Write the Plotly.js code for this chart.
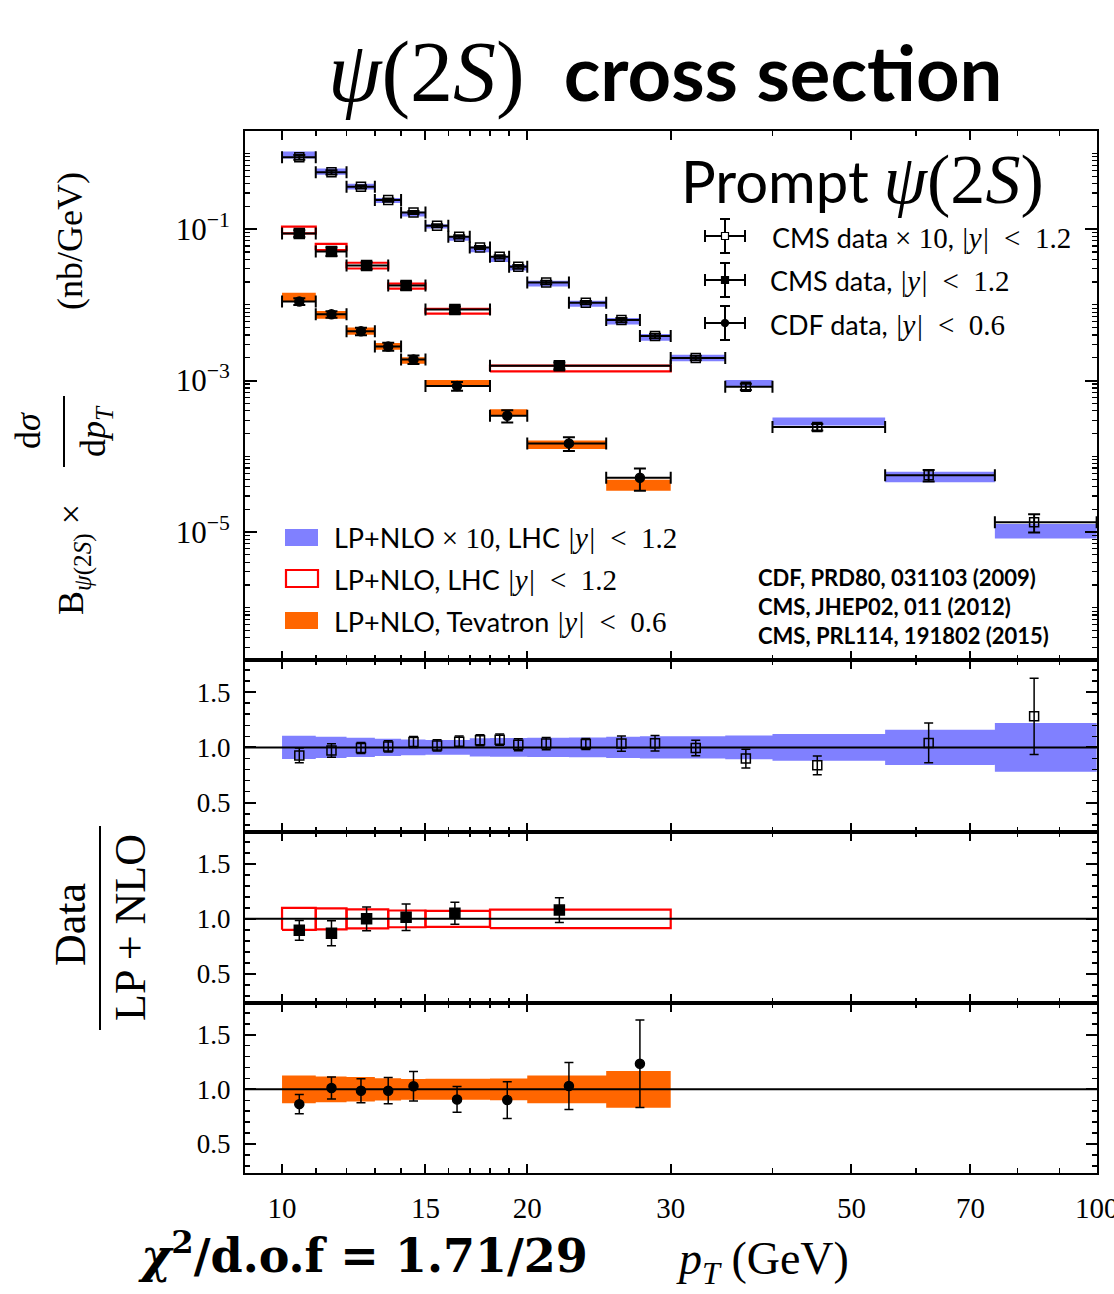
<!DOCTYPE html>
<html><head><meta charset="utf-8">
<script src="https://cdn.plot.ly/plotly-3.0.1.min.js"></script>
<style>body{margin:0;background:#fff}</style>
</head><body>
<div id="chart" style="width:1114px;height:1294px"></div>
<script>
// ---------------- data ----------------
// CMS data x10, |y|<1.2 (PRL114, 191802)
const cms10Lo = [10,11,12,13,14,15,16,17,18,19,20,22.5,25,27.5,30,35,40,55,75];
const cms10Hi = [11,12,13,14,15,16,17,18,19,20,22.5,25,27.5,30,35,40,55,75,100];
const cms10Pt = [10.5,11.5,12.5,13.5,14.5,15.5,16.5,17.5,18.5,19.5,21.1,23.6,26.1,28.7,32.2,37.1,45.4,62.2,83.8];
const cms10Data = [0.887,0.562,0.363,0.242,0.166,0.111,0.0792,0.0573,0.0431,0.0318,0.0197,0.0107,0.0063,0.00388,0.00199,8.3e-4,2.43e-4,5.6e-5,1.35e-5];
const cms10Theory = [0.957,0.578,0.365,0.240,0.158,0.109,0.0753,0.0539,0.0403,0.0311,0.0191,0.0104,0.0061,0.00374,0.00200,9.2e-4,2.9e-4,5.4e-5,1.05e-5];
const cms10TheoryErr = [0.105,0.096,0.086,0.078,0.072,0.067,0.067,0.082,0.084,0.084,0.088,0.09,0.096,0.1,0.1,0.108,0.12,0.16,0.22];
const cms10Ratio = [0.927,0.972,0.994,1.009,1.049,1.018,1.052,1.064,1.07,1.024,1.034,1.03,1.034,1.037,0.994,0.899,0.838,1.04,1.281];
const cms10RatioErr = [0.067,0.061,0.05,0.05,0.05,0.05,0.05,0.05,0.05,0.055,0.055,0.05,0.07,0.07,0.07,0.085,0.085,0.18,0.345];

// CMS data, |y|<1.2 (JHEP02, 011)
const cmsLo = [10,11,12,13.5,15,18];
const cmsHi = [11,12,13.5,15,18,30];
const cmsPt = [10.5,11.5,12.7,14.2,16.3,21.9];
const cmsData = [0.0877,0.0507,0.0331,0.018,0.00867,0.00157];
const cmsTheory = [0.0979,0.0583,0.0331,0.01773,0.00824,0.00145];
const cmsTheoryErr = [0.1,0.095,0.087,0.076,0.072,0.085];
const cmsRatio = [0.896,0.869,1.0,1.015,1.052,1.08];
const cmsRatioErr = [0.09,0.113,0.107,0.12,0.1,0.113];

// CDF data, |y|<0.6 (PRD80, 031103)
const cdfLo = [10,11,12,13,14,15,18,20,25];
const cdfHi = [11,12,13,14,15,18,20,25,30];
const cdfPt = [10.5,11.5,12.5,13.5,14.5,16.4,18.9,22.5,27.5];
const cdfData = [0.01107,0.00752,0.00448,0.00281,0.0019,8.45e-4,3.43e-4,1.48e-4,5.2e-5];
const cdfTheory = [0.0128,0.00743,0.00453,0.00284,0.00185,9.31e-4,3.8e-4,1.435e-4,4.21e-5];
const cdfTheoryErr = [0.127,0.118,0.112,0.102,0.095,0.096,0.1,0.127,0.168];
const cdfRatio = [0.865,1.012,0.988,0.988,1.028,0.908,0.902,1.031,1.235];
const cdfRatioErr = [0.089,0.1,0.11,0.12,0.135,0.118,0.168,0.215,0.4];

const xTickVals = [10,15,20,30,50,70,100];
const xTickText = ['10','15','20','30','50','70','100'];
const xMinorVals = [11,12,13,14,16,17,18,19,40,60,80,90];
const yMainTickVals = [1e-5,1e-3,1e-1];
const yMainTickText = ['10<sup>−5</sup>','10<sup>−3</sup>','10<sup>−1</sup>'];
const yRatioTickVals = [0.5,1.0,1.5];
const yRatioTickText = ['0.5','1.0','1.5'];

// ---------------- styling ----------------
const BLUE = '#8080ff', RED = '#ff0000', ORANGE = '#ff6600';
const SERIF = 'Liberation Serif';
const SANS = 'Lato';
const X_MIN = 9.006, X_MAX = 100.1;

function boxPoly(lo, hi, c, err) {
  const xs = [], ys = [];
  for (let i = 0; i < lo.length; i++) {
    const a = c[i] * (1 - err[i]), b = c[i] * (1 + err[i]);
    xs.push(lo[i], hi[i], hi[i], lo[i], lo[i], null);
    ys.push(a, a, b, b, a, null);
  }
  return {x: xs, y: ys};
}
const ones = a => a.map(() => 1);

function band(lo, hi, c, err, color, xa, ya) {
  const p = boxPoly(lo, hi, c, err);
  return {type:'scatter', mode:'lines', x:p.x, y:p.y, fill:'toself', fillcolor:color,
    line:{width:0, color:color}, xaxis:xa, yaxis:ya, hoverinfo:'skip', showlegend:false};
}
function outline(lo, hi, c, err, color, xa, ya) {
  const p = boxPoly(lo, hi, c, err);
  return {type:'scatter', mode:'lines', x:p.x, y:p.y,
    line:{width:2.2, color:color}, xaxis:xa, yaxis:ya, hoverinfo:'skip', showlegend:false};
}
function mainPoints(pt, lo, hi, data, ratio, rerr, symbol, size, xa, ya) {
  const e = data.map((d, i) => d * rerr[i] / ratio[i]);
  return {type:'scatter', mode:'markers', x:pt, y:data, xaxis:xa, yaxis:ya, showlegend:false,
    marker:{symbol:symbol, size:size, color:'black', line:{color:'black', width:1.5}},
    error_x:{type:'data', symmetric:false, array:pt.map((p,i)=>hi[i]-p), arrayminus:pt.map((p,i)=>p-lo[i]),
      color:'black', thickness:2, width:6},
    error_y:{type:'data', symmetric:true, array:e, color:'black', thickness:2, width:6}};
}
function ratioPoints(pt, ratio, rerr, symbol, size, xa, ya) {
  return {type:'scatter', mode:'markers', x:pt, y:ratio, xaxis:xa, yaxis:ya, showlegend:false,
    marker:{symbol:symbol, size:size, color:'black', line:{color:'black', width:1.5}},
    error_y:{type:'data', symmetric:true, array:rerr, color:'black', thickness:1.5, width:4.5}};
}
function unitLine(xa, ya) {
  return {type:'scatter', mode:'lines', x:[X_MIN, X_MAX], y:[1, 1], xaxis:xa, yaxis:ya,
    line:{color:'black', width:2}, hoverinfo:'skip', showlegend:false};
}

const traces = [
  band(cms10Lo, cms10Hi, cms10Theory, cms10TheoryErr, BLUE, 'x', 'y'),
  outline(cmsLo, cmsHi, cmsTheory, cmsTheoryErr, RED, 'x', 'y'),
  band(cdfLo, cdfHi, cdfTheory, cdfTheoryErr, ORANGE, 'x', 'y'),
  mainPoints(cms10Pt, cms10Lo, cms10Hi, cms10Data, cms10Ratio, cms10RatioErr, 'square-open', 9, 'x', 'y'),
  mainPoints(cmsPt, cmsLo, cmsHi, cmsData, cmsRatio, cmsRatioErr, 'square', 10, 'x', 'y'),
  mainPoints(cdfPt, cdfLo, cdfHi, cdfData, cdfRatio, cdfRatioErr, 'circle', 9, 'x', 'y'),

  band(cms10Lo, cms10Hi, ones(cms10Lo), cms10TheoryErr, BLUE, 'x2', 'y2'),
  unitLine('x2', 'y2'),
  ratioPoints(cms10Pt, cms10Ratio, cms10RatioErr, 'square-open', 9, 'x2', 'y2'),

  outline(cmsLo, cmsHi, ones(cmsLo), cmsTheoryErr, RED, 'x3', 'y3'),
  unitLine('x3', 'y3'),
  ratioPoints(cmsPt, cmsRatio, cmsRatioErr, 'square', 10, 'x3', 'y3'),

  band(cdfLo, cdfHi, ones(cdfLo), cdfTheoryErr, ORANGE, 'x4', 'y4'),
  unitLine('x4', 'y4'),
  ratioPoints(cdfPt, cdfRatio, cdfRatioErr, 'circle', 9, 'x4', 'y4')
];

// ---------------- axes ----------------
const L = 245, R = 1097, T = 131, B = 1173, W = R - L, H = B - T;
const lx = p => (p - L) / W;
const ly = p => (B - p) / H;

function xAxis(anchor, labels) {
  return {type:'log', range:[Math.log10(X_MIN), Math.log10(X_MAX)], anchor:anchor,
    tickmode:'array', tickvals:xTickVals, ticktext:xTickText, showticklabels:labels,
    ticks:'inside', ticklen:9, tickwidth:2, tickcolor:'black',
    tickfont:{family:SERIF, size:29, color:'black'}, ticklabelstandoff:8, ticklabeloverflow:'allow',
    showline:true, linewidth:2, linecolor:'black', mirror:'ticks',
    showgrid:false, zeroline:false,
    minor:{tickmode:'array', tickvals:xMinorVals, ticks:'inside', ticklen:5, tickwidth:1.5, tickcolor:'black', showgrid:false}};
}
const yMainMinor = [];
for (let n = -7; n <= 0; n++) for (let k = 1; k <= 9; k++) {
  const v = k * Math.pow(10, n);
  if (!(k === 1 && (n === -1 || n === -3 || n === -5))) yMainMinor.push(v);
}
const ratioMinor = [0.3,0.4,0.6,0.7,0.8,0.9,1.1,1.2,1.3,1.4,1.6,1.7];
function yRatio(dom, anchor) {
  return {domain:dom, anchor:anchor, range:[0.235, 1.79], tickmode:'array', tickvals:yRatioTickVals, ticktext:yRatioTickText,
    ticks:'inside', ticklen:11, tickwidth:2, tickcolor:'black', tickfont:{family:SERIF, size:27, color:'black'},
    ticklabelstandoff:7,
    showline:true, linewidth:2, linecolor:'black', mirror:'ticks', showgrid:false, zeroline:false,
    minor:{tickmode:'array', tickvals:ratioMinor, ticks:'inside', ticklen:5, tickwidth:1.5, tickcolor:'black', showgrid:false}};
}

// ---------------- text & legend ----------------
const sp = (t, s) => '<span style="font-family:' + SERIF + ';font-size:' + (s || 29) + 'px">' + t + '</span>';
const ann = [];
function A(x, y, text, size, opts) {
  ann.push(Object.assign({xref:'paper', yref:'paper', x:lx(x), y:ly(y), text:text, showarrow:false,
    font:{family:SANS, size:size, color:'black'}, xanchor:'center', yanchor:'middle'}, opts || {}));
}
const cond = (v) => sp('<i>|y|</i>&nbsp;&nbsp;&lt;&nbsp;&nbsp;' + v);
// title
A(665, 72, '<span style="font-family:' + SERIF + ';font-size:86px"><i>ψ</i>(2<i>S</i>)</span>&nbsp;&nbsp;<b>cross section</b>', 76);
// Prompt psi(2S)
A(1046, 180, 'Prompt&nbsp;' + '<span style="font-family:' + SERIF + ';font-size:70px"><i>ψ</i>(2<i>S</i>)</span>', 58, {xanchor:'right'});
// data legend texts
A(770, 237, 'CMS data ' + sp('×&nbsp;10') + ', ' + cond('1.2'), 27, {xanchor:'left'});
A(768, 280, 'CMS data, ' + cond('1.2'), 27, {xanchor:'left'});
A(768, 324, 'CDF data, ' + cond('0.6'), 27, {xanchor:'left'});
// theory legend texts
A(332, 537, 'LP+NLO ' + sp('×&nbsp;10') + ', LHC ' + cond('1.2'), 27, {xanchor:'left'});
A(332, 579, 'LP+NLO, LHC ' + cond('1.2'), 27, {xanchor:'left'});
A(332, 621, 'LP+NLO, Tevatron ' + cond('0.6'), 27, {xanchor:'left'});
// references
A(756, 577, '<b>CDF, PRD80, 031103 (2009)</b>', 22, {xanchor:'left'});
A(756, 606, '<b>CMS, JHEP02, 011 (2012)</b>', 22, {xanchor:'left'});
A(756, 635, '<b>CMS, PRL114, 191802 (2015)</b>', 22, {xanchor:'left'});
// y axis label (main)
A(74, 560, 'B<sub><i>ψ</i>(2<i>S</i>)</sub> ×', 36, {font:{family:SERIF, size:36, color:'black'}, textangle:-90});
A(28, 431, 'd<i>σ</i>', 36, {font:{family:SERIF, size:36, color:'black'}, textangle:-90});
A(95, 431, 'd<i>p</i><sub><i>T</i></sub>', 36, {font:{family:SERIF, size:36, color:'black'}, textangle:-90});
A(70, 241, '(nb/GeV)', 36, {font:{family:SERIF, size:36, color:'black'}, textangle:-90});
// ratio label
A(70, 925, 'Data', 44, {font:{family:SERIF, size:44, color:'black'}, textangle:-90});
A(130, 928, 'LP + NLO', 44, {font:{family:SERIF, size:44, color:'black'}, textangle:-90});
// x title and chi2
A(762, 1262, '<i>p</i><sub><i>T</i></sub> (GeV)', 46, {font:{family:SERIF, size:46, color:'black'}});
A(363, 1253, '<b><i>χ</i><sup>2</sup>/d.o.f = 1.71/29</b>', 46, {font:{family:'DejaVu Serif', size:46, color:'black'}});

const shapes = [];
function ln(x0, y0, x1, y1, w) {
  shapes.push({type:'line', xref:'paper', yref:'paper', x0:lx(x0), y0:ly(y0), x1:lx(x1), y1:ly(y1),
    line:{color:'black', width:w || 2}});
}
// fraction bars
ln(64, 396, 64, 467, 2);
ln(100, 826, 100, 1030, 2);
// data legend glyphs
const legRows = [{cy:236, sym:'sq-open'}, {cy:280, sym:'sq'}, {cy:323, sym:'circ'}];
legRows.forEach(r => {
  ln(705, r.cy, 745, r.cy, 2);
  ln(725, r.cy - 17, 725, r.cy + 17, 2);
  ln(705, r.cy - 6, 705, r.cy + 6, 2);
  ln(745, r.cy - 6, 745, r.cy + 6, 2);
  ln(720, r.cy - 17, 730, r.cy - 17, 2);
  ln(720, r.cy + 17, 730, r.cy + 17, 2);
  const s = {xref:'paper', yref:'paper', x0:lx(721.5), x1:lx(728.5), y0:ly(r.cy + 3.5), y1:ly(r.cy - 3.5),
    line:{color:'black', width:1.2}};
  if (r.sym === 'sq-open') { s.type = 'rect'; s.fillcolor = 'white'; }
  else if (r.sym === 'sq') { s.type = 'rect'; s.fillcolor = 'black'; }
  else { s.type = 'circle'; s.fillcolor = 'black'; }
  shapes.push(s);
});
// theory legend swatches
shapes.push({type:'rect', xref:'paper', yref:'paper', x0:lx(285), x1:lx(318), y0:ly(546), y1:ly(529), fillcolor:BLUE, line:{width:0}});
shapes.push({type:'rect', xref:'paper', yref:'paper', x0:lx(286), x1:lx(318), y0:ly(587), y1:ly(570), fillcolor:'rgba(0,0,0,0)', line:{color:RED, width:2.2}});
shapes.push({type:'rect', xref:'paper', yref:'paper', x0:lx(285), x1:lx(318), y0:ly(629), y1:ly(612), fillcolor:ORANGE, line:{width:0}});

const layout = {
  width:1114, height:1294, paper_bgcolor:'white', plot_bgcolor:'white',
  margin:{l:L, r:1114 - R, t:T, b:1294 - B, pad:0},
  showlegend:false,
  font:{family:SERIF, color:'black'},
  xaxis: xAxis('y', false),
  xaxis2: xAxis('y2', false),
  xaxis3: xAxis('y3', false),
  xaxis4: xAxis('y4', true),
  yaxis: {domain:[ly(660), 1], anchor:'x', type:'log', range:[-6.69, 0.296],
    tickmode:'array', tickvals:yMainTickVals, ticktext:yMainTickText,
    ticks:'inside', ticklen:12, tickwidth:2, tickcolor:'black', tickfont:{family:SERIF, size:31, color:'black'},
    ticklabelstandoff:7,
    showline:true, linewidth:2, linecolor:'black', mirror:'ticks', showgrid:false, zeroline:false,
    minor:{tickmode:'array', tickvals:yMainMinor, ticks:'inside', ticklen:5, tickwidth:1.2, tickcolor:'black', showgrid:false}},
  yaxis2: yRatio([ly(832), ly(660)], 'x2'),
  yaxis3: yRatio([ly(1003), ly(832)], 'x3'),
  yaxis4: yRatio([0, ly(1003)], 'x4'),
  annotations: ann,
  shapes: shapes
};

Plotly.newPlot('chart', traces, layout, {staticPlot:true, displayModeBar:false});
</script>
</body></html>
